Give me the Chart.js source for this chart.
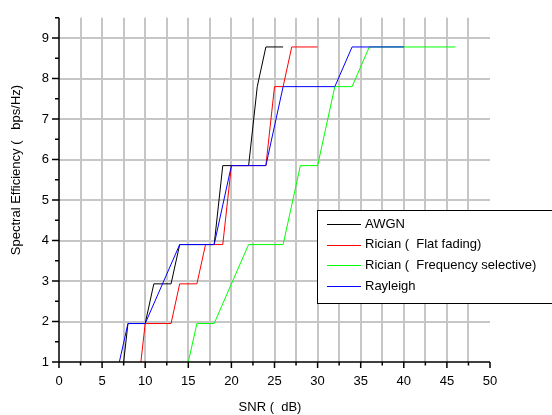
<!DOCTYPE html>
<html>
<head>
<meta charset="utf-8">
<script src="https://cdn.jsdelivr.net/npm/chart.js@4.4.1/dist/chart.umd.min.js"></script>
<style>
    html, body { margin: 0; padding: 0; background: #fff; }
    #wrap { width: 552px; height: 415px; }
</style>
</head>
<body>
<div id="wrap"><canvas id="seChart" width="552" height="415"></canvas></div>
<script>
// Spectral efficiency vs SNR for the four channel models
const seriesNames = ['AWGN', 'Rician (  Flat fading)', 'Rician (  Frequency selective)', 'Rayleigh'];
const seriesColors = ['#000000', '#ff0000', '#00ff00', '#0000ff'];

const awgnSnr = [7.5, 8, 10, 11, 13, 14, 18, 19, 22, 23, 24, 26];
const awgnSe  = [1, 1.95, 1.95, 2.93, 2.93, 3.9, 3.9, 5.85, 5.85, 7.8, 8.78, 8.78];

const ricianFlatSnr = [9.5, 10, 13, 14, 16, 17, 19, 20, 24, 25, 26, 27, 30];
const ricianFlatSe  = [1, 1.95, 1.95, 2.93, 2.93, 3.9, 3.9, 5.85, 5.85, 7.8, 7.8, 8.78, 8.78];

const ricianFreqSnr = [15, 16, 18, 20, 22, 26, 28, 30, 32, 34, 36, 46];
const ricianFreqSe  = [1, 1.95, 1.95, 2.93, 3.9, 3.9, 5.85, 5.85, 7.8, 7.8, 8.78, 8.78];

const rayleighSnr = [7, 8, 10, 14, 18, 20, 24, 26, 32, 34, 40];
const rayleighSe  = [1, 1.95, 1.95, 3.9, 3.9, 5.85, 5.85, 7.8, 7.8, 8.78, 8.78];

const xTickLabels = [0, 5, 10, 15, 20, 25, 30, 35, 40, 45, 50];
const yTickLabels = [1, 2, 3, 4, 5, 6, 7, 8, 9];

const xTitle = 'SNR (  dB)';
const yTitle = 'Spectral Efficiency (   bps/Hz)';

const FONT = '"Liberation Sans", Arial, sans-serif';
const GRID = '#c6c6c6';

function toPoints(xs, ys) {
    return xs.map((v, i) => ({ x: v, y: ys[i] }));
}

const seriesData = [
    toPoints(awgnSnr, awgnSe),
    toPoints(ricianFlatSnr, ricianFlatSe),
    toPoints(ricianFreqSnr, ricianFreqSe),
    toPoints(rayleighSnr, rayleighSe)
];

// axis lines, tick marks, titles and the boxed legend
const framePlugin = {
    id: 'frame',
    afterDatasetsDraw(chart) {
        const { ctx, chartArea: a, scales: { x, y } } = chart;
        ctx.save();
        ctx.strokeStyle = '#000';
        ctx.lineWidth = 1.5;
        ctx.beginPath();
        ctx.moveTo(a.left, a.top);
        ctx.lineTo(a.left, a.bottom);
        ctx.lineTo(a.right, a.bottom);
        x.ticks.forEach(t => {
            const px = x.getPixelForValue(t.value);
            const len = xTickLabels.includes(t.value) ? 6 : 3.5;
            ctx.moveTo(px, a.bottom);
            ctx.lineTo(px, a.bottom + len);
        });
        y.ticks.forEach(t => {
            const py = y.getPixelForValue(t.value);
            const len = yTickLabels.includes(t.value) ? 7 : 4;
            ctx.moveTo(a.left, py);
            ctx.lineTo(a.left - len, py);
        });
        ctx.stroke();

        ctx.fillStyle = '#000';
        ctx.font = '13px ' + FONT;
        ctx.textAlign = 'center';
        ctx.textBaseline = 'middle';
        ctx.fillText(xTitle, 270, 407);
        ctx.save();
        ctx.translate(16, 170);
        ctx.rotate(-Math.PI / 2);
        ctx.fillText(yTitle, 0, 0);
        ctx.restore();
        ctx.restore();
    },
    afterDraw(chart) {
        const { ctx } = chart;
        ctx.save();
        ctx.fillStyle = '#fff';
        ctx.strokeStyle = '#000';
        ctx.lineWidth = 1;
        ctx.fillRect(317.5, 210.5, 250, 93);
        ctx.strokeRect(317.5, 210.5, 250, 93);
        ctx.font = '13px ' + FONT;
        ctx.textAlign = 'left';
        ctx.textBaseline = 'middle';
        seriesNames.forEach((name, i) => {
            const ry = 224 + i * 20.7;
            ctx.strokeStyle = seriesColors[i];
            ctx.beginPath();
            ctx.moveTo(327, Math.round(ry) + 0.5);
            ctx.lineTo(361, Math.round(ry) + 0.5);
            ctx.stroke();
            ctx.fillStyle = '#000';
            ctx.fillText(name, 365, ry);
        });
        ctx.restore();
    }
};

new Chart(document.getElementById('seChart').getContext('2d'), {
    type: 'line',
    data: {
        datasets: seriesData.map((pts, i) => ({
            label: seriesNames[i],
            data: pts,
            borderColor: seriesColors[i],
            borderWidth: 1,
            pointRadius: 0,
            tension: 0,
            fill: false,
            order: 4 - i
        }))
    },
    options: {
        responsive: false,
        animation: false,
        events: [],
        layout: { padding: { top: 11, right: 62, left: 0, bottom: 0 } },
        plugins: { legend: { display: false }, tooltip: { enabled: false } },
        scales: {
            x: {
                type: 'linear',
                min: 0,
                max: 50,
                afterFit: s => { s.height = 53; },
                border: { display: false },
                grid: {
                    drawTicks: false,
                    lineWidth: 2,
                    color: c => (c.tick && c.tick.value > 0 && c.tick.value < 50) ? GRID : 'rgba(0,0,0,0)'
                },
                ticks: {
                    stepSize: 2.5,
                    autoSkip: false,
                    maxRotation: 0,
                    padding: 12,
                    color: '#000',
                    font: { family: FONT, size: 13 },
                    callback: v => xTickLabels.includes(v) ? String(v) : ''
                }
            },
            y: {
                type: 'linear',
                min: 1,
                max: 9.5,
                afterFit: s => { s.width = 59; },
                border: { display: false },
                grid: {
                    drawTicks: false,
                    lineWidth: 2,
                    color: c => (c.tick && Number.isInteger(c.tick.value) && c.tick.value > 1) ? GRID : 'rgba(0,0,0,0)'
                },
                ticks: {
                    stepSize: 0.5,
                    autoSkip: false,
                    padding: 10,
                    color: '#000',
                    font: { family: FONT, size: 13 },
                    callback: v => yTickLabels.includes(v) ? String(v) : ''
                }
            }
        }
    },
    plugins: [framePlugin]
});
</script>
</body>
</html>
